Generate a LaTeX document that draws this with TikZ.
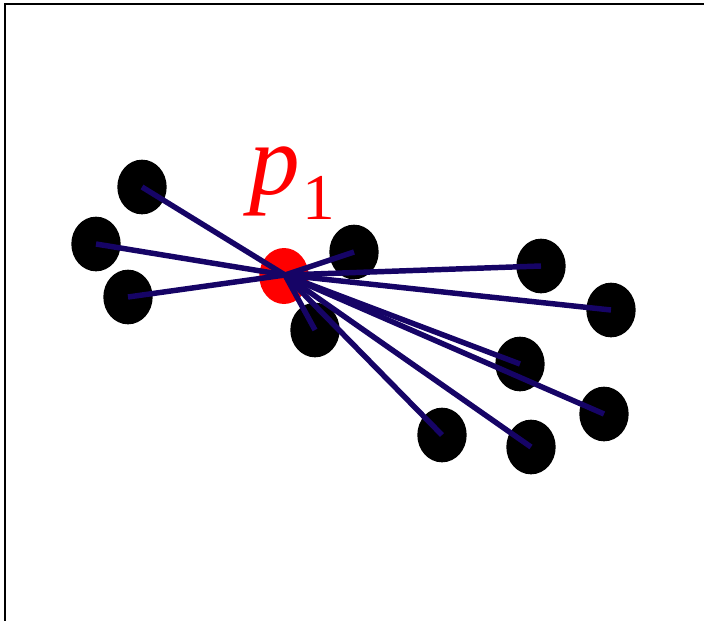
\documentclass[tikz,border=0pt]{standalone}
\usepackage{fontspec}
\setmainfont{Liberation Serif}
\usepackage{tikz}
\usetikzlibrary{shapes.geometric, positioning, calc}
\definecolor{navylink}{RGB}{22, 4, 102}
\definecolor{rojo}{RGB}{255, 0, 0}

\begin{document}
\begin{tikzpicture}[
    x=0.75pt, y=-0.75pt,
    dot/.style={ellipse, fill=black, inner sep=0pt, minimum width=37pt, minimum height=41pt},
    hub/.style={ellipse, fill=rojo, inner sep=0pt, minimum width=37pt, minimum height=42pt},
    link/.style={draw=navylink, line width=4.1pt},
    frame/.style={draw=black, line width=1.5pt}
]
\useasboundingbox (0,0) rectangle (704,621);
\draw[frame] (4.5,621) -- (4.5,3.5) -- (704,3.5);

\node[hub] (p1) at (284,276) {};
\node[anchor=base west, text=rojo, inner sep=0pt, font=\fontsize{76}{76}\selectfont] (lbl) at (249,194) {\textit{p}\hspace{2pt}\raisebox{-19pt}{\fontsize{49}{49}\selectfont 1}};

\node[dot] (a) at (142,187) {};
\node[dot] (b) at (96,244) {};
\node[dot] (c) at (128,297) {};
\node[dot] (d) at (354,252) {};
\node[dot] (e) at (315,330) {};
\node[dot] (f) at (541,266) {};
\node[dot] (g) at (611,310) {};
\node[dot] (h) at (520,364) {};
\node[dot] (i) at (604,414) {};
\node[dot] (j) at (442,435) {};
\node[dot] (k) at (531,447) {};

\coordinate (o) at (285,275);
\foreach \n in {a,b,c,d,e,f,g,h,i,j,k}
    \draw[link] (o) -- (\n.center);
\end{tikzpicture}
\end{document}
